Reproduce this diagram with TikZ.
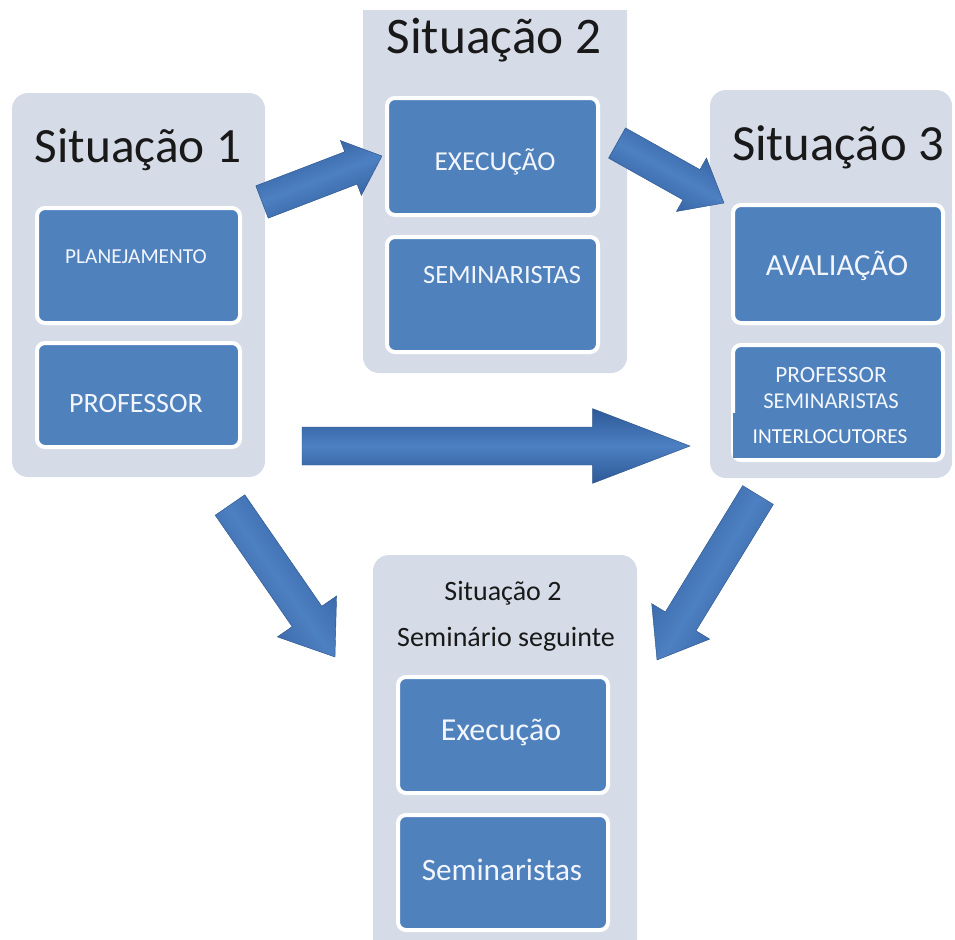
\documentclass[tikz,border=0pt]{standalone}
\usepackage{fontspec}
\setmainfont{Carlito}
\usetikzlibrary{calc,fit}
\definecolor{outerbg}{HTML}{D5DCE8}
\definecolor{innerbg}{HTML}{4F81BD}
\definecolor{arrowdark}{HTML}{2D5997}
\definecolor{arrowlight}{HTML}{4D80C2}
\definecolor{txtlight}{HTML}{F2F6FC}
% #1 prefix, #2 tail, #3 tip, #4 half shaft, #5 half head, #6 head length, #7 shading angle
\newcommand\blockarrow[7]{%
  \coordinate (#1h) at ($(#3)!#6!(#2)$);
  \path[arrowbody, shading angle=#7]
    ($(#2)!#4!90:(#3)$) -- ($(#1h)!#4!90:(#3)$) -- ($(#1h)!#5!90:(#3)$) -- (#3)
    -- ($(#1h)!#5!-90:(#3)$) -- ($(#1h)!#4!-90:(#3)$) -- ($(#2)!#4!-90:(#3)$) -- cycle;
}
\tikzset{
  outerbox/.style={fill=outerbg, rounded corners=12pt, inner sep=0pt},
  innerbox/.style={fill=innerbg, draw=white, line width=3pt, rounded corners=6pt, inner sep=0pt},
  bigtitle/.style={font=\fontsize{37}{44}\selectfont, text=black!90, anchor=base, inner sep=0pt},
  smalltitle/.style={font=\fontsize{21}{25}\selectfont, text=black!90, anchor=base, inner sep=0pt},
  boxtext/.style={text=txtlight, anchor=base, inner sep=0pt},
  arrowbody/.style={top color=arrowdark, bottom color=arrowdark, middle color=arrowlight, draw=arrowdark!90!black, line width=0.3pt},
}
\begin{document}
\begin{tikzpicture}[x=0.75pt, y=-0.75pt]
\useasboundingbox (0,0) rectangle (955,939);
\clip (0,0) rectangle (955,939);
% outer boxes
\node[outerbox, fit={(12,93)(265,477)}] (s1) {};
\begin{scope}
  \clip (0,10) rectangle (955,939);
  \node[outerbox, fit={(363,-20)(627,373)}] (s2) {};
\end{scope}
\node[outerbox, fit={(710,90)(952,478)}] (s3) {};
\node[outerbox, fit={(373,555)(637,960)}] (s4) {};
% inner boxes
\node[innerbox, fit={(37,208)(240,323)}] (plan) {};
\node[innerbox, fit={(37,343)(240,447)}] (prof) {};
\node[innerbox, fit={(387,98)(598,215)}] (exec) {};
\node[innerbox, fit={(387,237)(598,352)}] (sem) {};
\node[innerbox, fit={(733,205)(943,323)}] (aval) {};
\node[innerbox, fit={(733,345)(943,460)}] (ps) {};
\node[fill=innerbg, inner sep=0pt, fit={(733,413)(937,458)}] (inter) {};
\node[innerbox, fit={(398,677)(608,793)}] (exec2) {};
\node[innerbox, fit={(398,815)(608,930)}] (sem2) {};
% titles
\node[bigtitle] (t1) at (138,162) {Situação 1};
\node[bigtitle, font=\fontsize{38.5}{46}\selectfont] (t2) at (494,53) {Situação 2};
\node[bigtitle, font=\fontsize{38}{46}\selectfont] (t3) at (838,160) {Situação 3};
\node[smalltitle] (t4a) at (503,600) {Situação 2};
\node[smalltitle] (t4b) at (506,646) {Seminário seguinte};
% box texts
\node[boxtext, font=\fontsize{16}{19}\selectfont] (xplan) at (136,263) {PLANEJAMENTO};
\node[boxtext, font=\fontsize{21}{25}\selectfont] (xprof) at (136,412) {PROFESSOR};
\node[boxtext, font=\fontsize{20.5}{25}\selectfont] (xexec) at (495,170) {EXECUÇÃO};
\node[boxtext, font=\fontsize{19.8}{24}\selectfont] (xsem) at (502,283) {SEMINARISTAS};
\node[boxtext, font=\fontsize{23}{28}\selectfont] (xaval) at (837,275) {AVALIAÇÃO};
\node[boxtext, font=\fontsize{17.5}{21}\selectfont] (xps1) at (831,382) {PROFESSOR};
\node[boxtext, font=\fontsize{17}{21}\selectfont] (xps2) at (831,408) {SEMINARISTAS};
\node[boxtext, font=\fontsize{16}{19}\selectfont, text=white] (xinter) at (830,443) {INTERLOCUTORES};
\node[boxtext, font=\fontsize{24}{29}\selectfont] (xexec2) at (501,740) {Execução};
\node[boxtext, font=\fontsize{23.4}{28}\selectfont] (xsem2) at (502,880) {Seminaristas};
% arrow end points
\coordinate (a1t) at (262,202);
\coordinate (a1p) at (382,156);
\coordinate (a2t) at (617,143);
\coordinate (a2p) at (724,203);
\coordinate (a3t) at (302,446);
\coordinate (a3p) at (690,446);
\coordinate (a4t) at (230,505);
\coordinate (a4p) at (335,657);
\coordinate (a5t) at (758,495);
\coordinate (a5p) at (657,660);
\blockarrow{a1}{a1t}{a1p}{13pt}{22pt}{25pt}{21}
\blockarrow{a2}{a2t}{a2p}{13pt}{23pt}{28pt}{-29}
\blockarrow{a3}{a3t}{a3p}{14.25pt}{28pt}{73pt}{0}
\blockarrow{a4}{a4t}{a4p}{13.5pt}{27pt}{37pt}{-55}
\blockarrow{a5}{a5t}{a5p}{13.5pt}{25.5pt}{34pt}{-121}
\end{tikzpicture}
\end{document}
